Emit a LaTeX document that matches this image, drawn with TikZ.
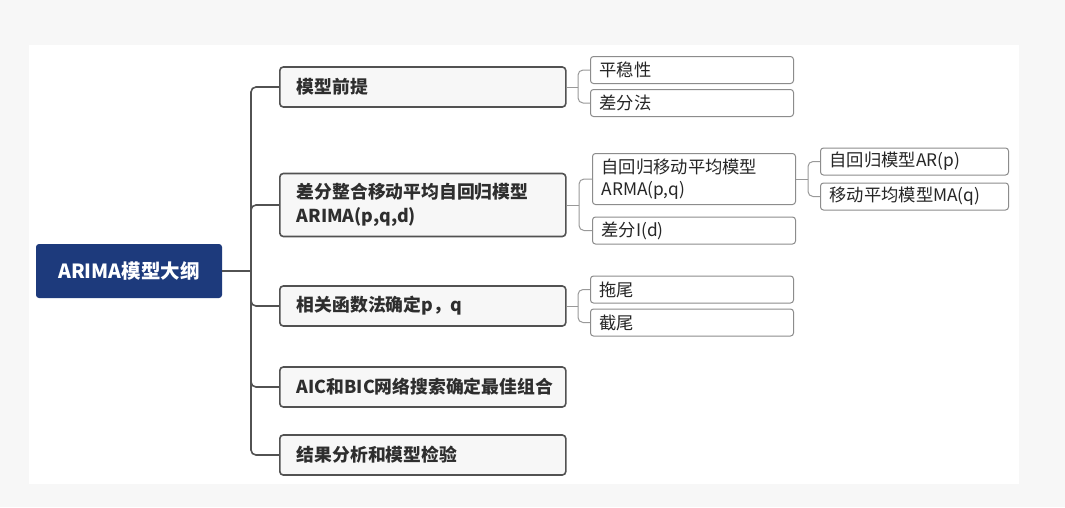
\documentclass[tikz,border=0pt]{standalone}
\usepackage{fontspec}
\setmainfont{Noto Sans CJK SC}
\begin{document}
\begin{tikzpicture}[x=1pt,y=-1pt,
  rootbox/.style={fill=navy,draw=none,rounded corners=3pt,text=white,font=\fontsize{19.5}{22}\selectfont\bfseries,inner sep=0pt,minimum width=186pt,minimum height=54pt},
  lone/.style={fill=black!3,draw=black!68,line width=1.6pt,rounded corners=3.5pt,anchor=west,font=\fontsize{17.8}{24}\selectfont\bfseries,text=black!82,align=left,inner xsep=17pt,inner ysep=0pt,text width=252pt,minimum height=40pt},
  ltwo/.style={fill=white,draw=black!45,line width=1pt,rounded corners=3pt,anchor=west,font=\fontsize{17.3}{22}\selectfont,text=black!85,align=left,inner xsep=9pt,inner ysep=0pt,text width=185pt,minimum height=27pt},
  lthree/.style={ltwo,text width=170pt},
  conone/.style={draw=black!68,line width=1.6pt,rounded corners=5pt},
  contwo/.style={draw=black!40,line width=1pt,rounded corners=5pt}
]
\definecolor{navy}{HTML}{1D3A7C}
\fill[black!3] (0,0) rectangle (1065,507);
\fill[white] (29,45) rectangle (1019,484);
\useasboundingbox (0,0) rectangle (1065,507);

% root
\node[rootbox] (root) at (129,271) {ARIMA模型大纲};

% level 1
\node[lone] (a) at (279,87) {模型前提};
\node[lone,minimum height=63pt] (b) at (279,205) {差分整合移动平均自回归模型\\ARIMA(p,q,d)};
\node[lone] (c) at (279,306) {相关函数法确定p，q};
\node[lone] (d) at (279,387) {AIC和BIC网络搜索确定最佳组合};
\node[lone] (e) at (279,455) {结果分析和模型检验};

% level 2
\node[ltwo] (a1) at (590,70) {平稳性};
\node[ltwo] (a2) at (590,103) {差分法};
\node[ltwo,minimum height=51pt] (b1) at (592,179) {自回归移动平均模型\\ARMA(p,q)};
\node[ltwo] (b2) at (592,230.5) {差分I(d)};
\node[ltwo] (c1) at (590,289.5) {拖尾};
\node[ltwo] (c2) at (590,322.5) {截尾};

% level 3
\node[lthree] (b11) at (820,161.5) {自回归模型AR(p)};
\node[lthree] (b12) at (820,196.5) {移动平均模型MA(q)};

% connectors level 1
\coordinate (t) at (251,271);
\draw[conone] (root.east) -- (t);
\foreach \n in {a,b,c,d,e} \draw[conone] (t) |- (\n.west);

% connectors level 2
\coordinate (ta) at (578,87);
\draw[contwo] (a.east) -- (ta);
\foreach \n in {a1,a2} \draw[contwo] (ta) |- (\n.west);
\coordinate (tb) at (579,205);
\draw[contwo] (b.east) -- (tb);
\foreach \n in {b1,b2} \draw[contwo] (tb) |- (\n.west);
\coordinate (tc) at (578,306);
\draw[contwo] (c.east) -- (tc);
\foreach \n in {c1,c2} \draw[contwo] (tc) |- (\n.west);

% connectors level 3
\coordinate (tbb) at (808,179);
\draw[contwo] (b1.east) -- (tbb);
\foreach \n in {b11,b12} \draw[contwo] (tbb) |- (\n.west);
\end{tikzpicture}
\end{document}
